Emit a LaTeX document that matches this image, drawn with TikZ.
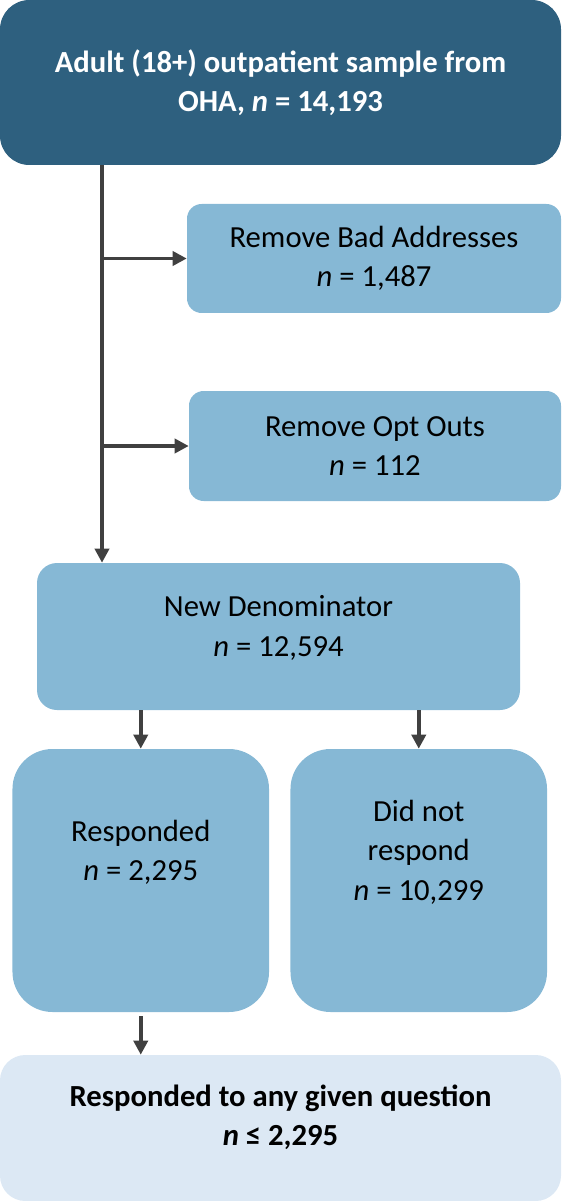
\documentclass[tikz,border=0pt]{standalone}
\usepackage{fontspec}
\setmainfont{Carlito}
\usetikzlibrary{arrows.meta,positioning}
\definecolor{darkbox}{RGB}{46,96,127}
\definecolor{midbox}{RGB}{134,184,213}
\definecolor{palebox}{RGB}{220,232,244}
\definecolor{linegray}{RGB}{64,64,64}
\begin{document}
\begin{tikzpicture}[x=0.75pt,y=-0.75pt,>={Triangle[length=10.5pt,width=10.5pt]}, line join=round,
    box/.style={rectangle,draw=none,inner sep=0pt},
    txt/.style={align=center,inner sep=0pt,font=\fontsize{23}{29.5}\selectfont},
    conn/.style={->,draw=linegray,line width=2.8pt}]
    \useasboundingbox (0,0) rectangle (561,1201);
    % boxes
    \node[box,fill=darkbox,rounded corners=22pt,minimum width=420.75pt,minimum height=123.75pt] (oha) at (280.5,82.5) {};
    \node[box,fill=midbox,rounded corners=11pt,minimum width=280.5pt,minimum height=81.75pt] (bad) at (374,258.5) {};
    \node[box,fill=midbox,rounded corners=11pt,minimum width=279pt,minimum height=82.5pt] (opt) at (375,446) {};
    \node[box,fill=midbox,rounded corners=15pt,minimum width=362.25pt,minimum height=110.25pt] (denom) at (278.5,636.5) {};
    \node[box,fill=midbox,rounded corners=30pt,minimum width=192.4pt,minimum height=197.25pt] (resp) at (140.75,880.5) {};
    \node[box,fill=midbox,rounded corners=30pt,minimum width=192.4pt,minimum height=197.25pt] (nonresp) at (418.75,880.5) {};
    \node[box,fill=palebox,rounded corners=19pt,minimum width=420.75pt,minimum height=109.5pt] (anyq) at (280.5,1128) {};
    % texts
    \node[txt,text=white,font=\fontsize{23}{29.5}\selectfont\bfseries] (ohatxt) at (oha.center) {Adult (18+) outpatient sample from\\OHA, \textit{n} = 14,193};
    \node[txt] (badtxt) at (bad.center) {Remove Bad Addresses\\\textit{n} = 1,487};
    \node[txt] (opttxt) at (opt.center) {Remove Opt Outs\\\textit{n} = 112};
    \node[txt] (denomtxt) at (278.5,628) {New Denominator\\\textit{n} = 12,594};
    \node[txt] (resptxt) at (140.75,852) {Responded\\\textit{n} = 2,295};
    \node[txt] (nonresptxt) at (418.75,852) {Did not\\respond\\\textit{n} = 10,299};
    \node[txt,font=\fontsize{23}{29.5}\selectfont\bfseries] (anyqtxt) at (280.5,1117) {Responded to any given question\\\textit{n} ≤ 2,295};
    % connectors
    \coordinate (spine) at (102,0);
    \draw[conn] (oha.south -| spine) -- (denom.north -| spine);
    \draw[conn] (spine |- bad.west) -- (bad.west);
    \draw[conn] (spine |- opt.west) -- (opt.west);
    \draw[conn] (resp.north |- denom.south) -- (resp.north);
    \draw[conn] (nonresp.north |- denom.south) -- (nonresp.north);
    \draw[conn,shorten <=3pt] (resp.south) -- (anyq.north -| resp.south);
\end{tikzpicture}
\end{document}
